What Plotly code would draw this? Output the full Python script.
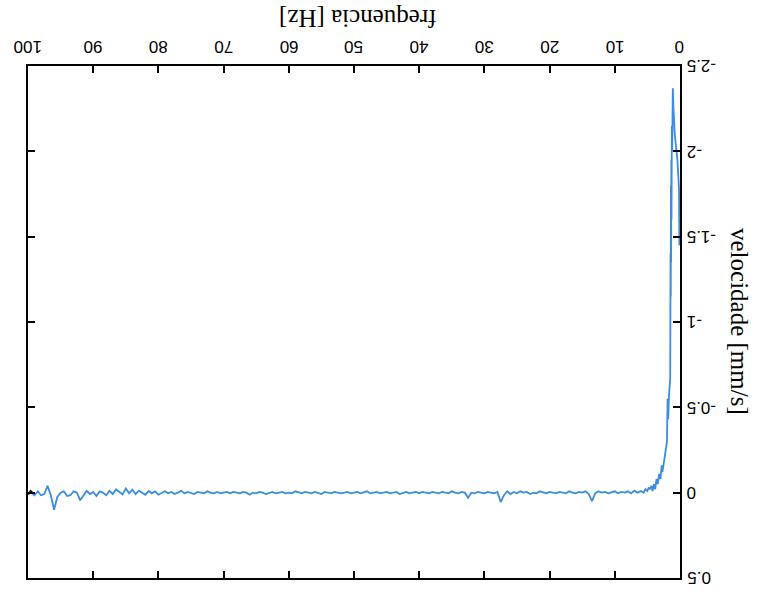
import plotly.graph_objects as go

# Spectrum near 0 Hz (steep rise of the velocity amplitude)
freq_low = [0.10, 0.15, 0.40, 0.80, 1.00, 1.10, 1.20, 1.25, 1.30, 1.33,
            1.36, 1.39, 1.42, 1.45, 1.50, 1.70, 1.80, 1.90, 2.00, 2.10,
            2.30, 2.50, 2.70, 2.80, 3.00, 3.20, 3.40, 3.60, 3.80, 4.00,
            4.20, 4.40, 4.60, 4.80, 5.00, 5.30, 5.60]
vel_low = [-1.45, -1.78, -1.95, -2.10, -2.25, -2.37, -2.00, -2.15, -1.60, -1.95,
           -1.35, -1.80, -1.15, -1.40, -0.67, -0.56, -0.43, -0.55, -0.30, -0.28,
           -0.22, -0.17, -0.12, -0.16, -0.08, -0.11, -0.05, -0.08, -0.02, -0.05,
           -0.01, -0.04, -0.02, -0.03, -0.01, -0.02, 0.00]

# Flat part of the spectrum, 6 Hz to 100 Hz
freq_high = [6.0, 6.5, 7.0, 7.5, 8.0, 8.5, 9.0, 9.5, 10.0, 10.5,
             11.0, 11.5, 12.0, 12.5, 13.0, 13.5, 14.0, 14.5, 15.0, 15.5,
             16.0, 16.5, 17.0, 17.5, 18.0, 18.5, 19.0, 19.5, 20.0, 20.5,
             21.0, 21.5, 22.0, 22.5, 23.0, 23.5, 24.0, 24.5, 25.0, 25.5,
             26.0, 26.5, 27.0, 27.5, 28.0, 28.5, 29.0, 29.5, 30.0, 30.5,
             31.0, 31.5, 32.0, 32.5, 33.0, 33.5, 34.0, 34.5, 35.0, 35.5,
             36.0, 36.5, 37.0, 37.5, 38.0, 38.5, 39.0, 39.5, 40.0, 40.5,
             41.0, 41.5, 42.0, 42.5, 43.0, 43.5, 44.0, 44.5, 45.0, 45.5,
             46.0, 46.5, 47.0, 47.5, 48.0, 48.5, 49.0, 49.5, 50.0, 50.5,
             51.0, 51.5, 52.0, 52.5, 53.0, 53.5, 54.0, 54.5, 55.0, 55.5,
             56.0, 56.5, 57.0, 57.5, 58.0, 58.5, 59.0, 59.5, 60.0, 60.5,
             61.0, 61.5, 62.0, 62.5, 63.0, 63.5, 64.0, 64.5, 65.0, 65.5,
             66.0, 66.5, 67.0, 67.5, 68.0, 68.5, 69.0, 69.5, 70.0, 70.5,
             71.0, 71.5, 72.0, 72.5, 73.0, 73.5, 74.0, 74.5, 75.0, 75.5,
             76.0, 76.5, 77.0, 77.5, 78.0, 78.5, 79.0, 79.5, 80.0, 80.5,
             81.0, 81.5, 82.0, 82.5, 83.0, 83.5, 84.0, 84.5, 85.0, 85.5,
             86.0, 86.5, 87.0, 87.5, 88.0, 88.5, 89.0, 89.5, 90.0, 90.5,
             91.0, 91.5, 92.0, 92.5, 93.0, 93.5, 94.0, 94.5, 95.0, 95.5,
             96.0, 96.5, 97.0, 97.5, 98.0, 98.5, 99.0, 99.5, 100.0]
vel_high = [-0.010, 0.000, -0.012, 0.004, -0.008, 0.000, -0.004, 0.004, -0.008, 0.000,
            0.004, -0.004, 0.000, -0.008, 0.004, 0.050, 0.008, -0.008, 0.000, -0.004,
            0.004, 0.000, -0.008, 0.004, 0.000, -0.004, 0.004, 0.000, -0.004, 0.004,
            0.000, -0.008, 0.004, 0.000, 0.008, -0.004, 0.000, -0.008, 0.004, -0.004,
            0.008, -0.008, 0.015, 0.055, -0.004, 0.004, 0.000, -0.004, 0.004, 0.000,
            -0.004, 0.004, 0.000, 0.030, 0.000, -0.004, 0.004, 0.000, -0.008, 0.004,
            0.000, -0.004, 0.004, 0.000, -0.004, 0.004, 0.000, -0.004, 0.004, -0.004,
            0.000, 0.004, -0.004, 0.000, 0.008, -0.004, 0.000, 0.004, -0.004, 0.000,
            0.004, -0.004, 0.000, 0.004, -0.008, 0.000, 0.004, -0.004, 0.000, 0.004,
            -0.004, 0.000, 0.004, 0.000, -0.004, 0.004, 0.000, -0.004, 0.008, 0.000,
            -0.004, 0.004, 0.000, -0.004, 0.004, 0.000, -0.008, 0.004, 0.000, 0.004,
            -0.004, 0.000, 0.004, -0.004, 0.000, 0.008, 0.000, -0.004, 0.004, 0.000,
            0.012, 0.000, -0.004, 0.004, 0.000, -0.004, 0.004, -0.004, 0.000, 0.004,
            -0.004, 0.004, 0.000, -0.008, 0.004, 0.000, -0.004, 0.008, 0.000, -0.004,
            0.004, -0.012, 0.000, 0.008, -0.004, 0.004, -0.008, 0.000, 0.012, -0.008,
            0.004, -0.010, 0.012, 0.000, -0.012, 0.008, -0.018, 0.004, -0.025, 0.010,
            -0.008, -0.020, 0.008, -0.010, 0.015, 0.000, -0.008, 0.020, -0.004, 0.008,
            -0.010, 0.015, 0.045, 0.000, -0.008, 0.015, 0.020, -0.008, 0.000, 0.025,
            0.100, 0.015, -0.040, 0.008, 0.015, -0.008, 0.015, 0.000, 0.008]

# Short dark stub at the end of the record
freq_end = [99.3, 99.6, 100.0]
vel_end = [0.000, -0.010, 0.010]

x_ticks = [0, 10, 20, 30, 40, 50, 60, 70, 80, 90, 100]
x_labels = ["0", "10", "20", "30", "40", "50", "60", "70", "80", "90", "100"]
y_ticks = [-2.5, -2, -1.5, -1, -0.5, 0, 0.5]
y_labels = ["-2.5", "-2", "-1.5", "-1", "-0.5", "0", "0.5"]

x_title = "frequencia [Hz]"
y_title = "velocidade [mm/s]"

fig = go.Figure()
fig.add_trace(go.Scatter(
    x=freq_low + freq_high, y=vel_low + vel_high,
    mode="lines", line=dict(color="#3a8de2", width=1.8),
    hoverinfo="skip", showlegend=False))
fig.add_trace(go.Scatter(
    x=freq_end, y=vel_end,
    mode="lines", line=dict(color="#1a1a2a", width=2),
    hoverinfo="skip", showlegend=False))

axis_common = dict(
    showline=True, linecolor="black", linewidth=2,
    mirror="ticks", ticks="inside", ticklen=7, tickwidth=2, tickcolor="black",
    showgrid=False, zeroline=False, showticklabels=False, tickmode="array",
)

tick_font = dict(family="Liberation Sans", size=17, color="black")
title_font = dict(family="Liberation Serif", size=25, color="black")

# Tick labels are drawn turned half a revolution, like the rest of the sheet
annotations = []
for v, t in zip(x_ticks, x_labels):
    annotations.append(dict(text=t, x=v, xref="x", y=1, yref="paper", yshift=19,
                            showarrow=False, textangle=180,
                            xanchor="center", yanchor="middle", font=tick_font))
for v, t in zip(y_ticks, y_labels):
    annotations.append(dict(text=t, x=1, xref="paper", xshift=5, y=v, yref="y",
                            showarrow=False, textangle=180,
                            xanchor="left", yanchor="middle", font=tick_font))
annotations.append(dict(text=x_title, xref="paper", yref="paper", x=0.505, y=1.093,
                        showarrow=False, textangle=180, xanchor="center",
                        yanchor="middle", font=title_font))
annotations.append(dict(text=y_title, xref="paper", yref="paper", x=1.092, y=0.5,
                        showarrow=False, textangle=90, xanchor="center",
                        yanchor="middle", font=title_font))

fig.update_layout(
    width=760, height=592,
    margin=dict(l=28, r=80, t=66, b=12),
    paper_bgcolor="white", plot_bgcolor="white",
    xaxis=dict(range=[100, 0], side="top", tickvals=x_ticks, **axis_common),
    yaxis=dict(range=[0.5, -2.5], side="right", tickvals=y_ticks, **axis_common),
    annotations=annotations,
)

fig.write_html("out.html")
